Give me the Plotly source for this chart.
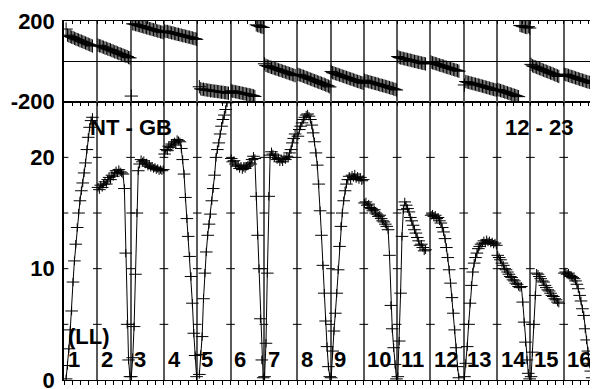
import plotly.graph_objects as go

# channel position inside each IF (fraction of the IF width)
CHAN_POS = [0.021, 0.063, 0.104, 0.146, 0.188, 0.229, 0.271, 0.313, 0.354, 0.396, 0.438, 0.479,
            0.521, 0.563, 0.604, 0.646, 0.688, 0.729, 0.771, 0.813, 0.854, 0.896, 0.938, 0.979]

IF_LABELS = [str(k) for k in range(1, 17)]

# amplitude per IF
amp_if1 = [None, 0.1, 1.3, 2.8, 4.5, 6.2, 8.8, 10.7, 12.2, 13.7, 15.0, 16.1, 17.0, 17.7, 18.6, 19.5, 20.7, 21.8, 22.7, 23.3, 23.6, None, None, None]
amp_if2 = [17.3, 17.1, 17.5, 17.3, 17.6, 17.8, 17.6, 18.0, 18.2, 18.0, 18.4, 18.3, 18.6, 18.8, 18.6, 18.9, 18.7, 18.6, 18.5, 17.2, 11.4, 5.0, 1.8, 0.3]
amp_if3 = [0.3, 2.0, 4.8, 9.5, 15.0, 18.8, 19.4, 19.8, 19.6, 19.7, 19.4, 19.5, 19.2, 19.3, 19.1, 19.2, 19.0, 19.1, 18.9, 19.0, 18.8, 18.9, 18.8, 18.9]
amp_if4 = [20.3, 20.7, 20.6, 21.0, 20.9, 21.2, 21.1, 21.4, 21.3, 21.6, 21.5, 21.4, 20.8, 19.8, 18.5, 16.4, 14.5, 12.9, 11.1, 9.3, 6.9, 4.2, 2.2, 0.3]
amp_if5 = [None, 0.5, 2.3, 3.9, 7.3, 9.6, 11.5, 13.0, 14.0, 14.9, 16.1, 17.2, 18.4, 20.0, 20.7, 21.3, 22.1, 22.8, 23.4, 23.8, 24.3, 24.9, 25.6, None]
amp_if6 = [19.9, 19.6, 19.7, 19.4, 19.2, 19.3, 19.0, 19.2, 18.9, 19.1, 19.0, 19.2, 19.3, 19.5, 19.4, 19.8, 20.1, 19.9, 16.5, 13.0, 10.0, 5.5, 1.8, 0.2]
amp_if7 = [0.3, 3.3, 9.6, 16.5, 20.2, 20.5, 20.3, 20.0, 20.2, 19.8, 19.9, 19.6, 19.8, 19.6, 19.9, 19.8, 20.1, 20.0, 20.4, 20.7, 21.3, 21.7, 22.1, None]
amp_if8 = [21.9, 22.5, 22.8, 23.1, 23.4, 23.6, 23.8, 23.9, 23.7, 23.4, 22.9, 22.2, 21.4, 20.4, 19.3, 17.6, 15.2, 13.0, 10.3, 7.8, 5.3, 3.0, 1.2, 0.3]
amp_if9 = [0.2, 2.6, 4.4, 6.0, 7.8, 9.9, 12.0, 13.8, 15.0, 16.1, 17.0, 17.6, 18.0, 18.3, 18.0, 18.4, 18.2, 18.5, 18.1, 18.3, 18.0, 18.2, 17.9, 18.0]
amp_if10 = [15.9, 16.0, 15.7, 15.8, 15.5, 15.4, 15.2, 15.3, 15.0, 14.9, 14.7, 14.8, 14.5, 14.3, 14.2, 14.0, 13.8, 13.5, 11.2, 6.7, 4.6, 2.9, 1.4, 0.1]
amp_if11 = [0.3, 3.5, 7.8, 12.9, 15.3, 16.0, 15.7, 15.4, 15.1, 14.6, 14.3, 13.9, 13.5, 13.2, 12.8, 12.5, 12.1, 12.2, 11.9, 11.6, 11.7, None, None, None]
amp_if12 = [14.8, 14.9, 14.7, 14.8, 14.5, 14.6, 14.3, 14.1, 13.7, 13.3, 12.7, 11.9, 11.0, 9.9, 8.7, 7.4, 6.0, 4.5, 2.9, 1.2, 0.2, None, None, None]
amp_if13 = [0.3, 1.5, 3.0, 5.0, 6.9, 8.5, 9.7, 10.5, 11.0, 11.4, 11.8, 12.0, 12.2, 12.3, 12.5, 12.3, 12.6, 12.4, 12.5, 12.3, 12.4, 12.2, 12.3, 12.1]
amp_if14 = [11.2, 11.0, 10.8, 10.5, 10.3, 10.0, 9.9, 9.7, 9.5, 9.3, 9.2, 9.0, 8.9, 8.7, 8.6, 8.4, 8.3, 8.4, 7.0, 5.2, 3.4, 1.8, 0.6, 0.1]
amp_if15 = [0.3, 2.5, 5.0, 7.6, 9.6, 9.5, 9.3, 9.1, 8.9, 8.8, 8.5, 8.3, 8.1, 8.0, 7.8, 7.6, 7.5, 7.3, 7.2, 7.0, 6.9, None, None, None]
amp_if16 = [9.6, 9.7, 9.5, 9.6, 9.4, 9.3, 9.2, 9.1, 8.9, 8.6, 8.2, 7.6, 7.1, 6.4, 5.8, 4.6, 3.6, 2.6, 1.5, 0.8, 0.2, None, None, None]

# phase (degrees) per IF
phs_if1 = [None, 160, 130, 126, 123, 120, 118, 114, 111, 108, 106, 102, 100, 97, 94, 91, 88, 85, 82, 79, 76, None, None, None]
phs_if2 = [80, 77, 76, 72, 70, 66, 65, 61, 59, 57, 53, 51, 47, 46, 42, 39, 37, 34, 32, 28, 26, 24, 19, 17]
phs_if3 = [-172, 186, 185, 182, 181, 178, 177, 174, 173, 170, 169, 166, 165, 162, 161, 158, 157, 154, 153, 150, 149, 146, 145, 142]
phs_if4 = [151, 148, 148, 145, 144, 141, 141, 138, 137, 134, 134, 131, 130, 127, 127, 124, 123, 120, 120, 117, 116, 113, 112, 109]
phs_if5 = [None, -126, -136, -139, -138, -141, -141, -143, -143, -146, -145, -147, -148, -148, -150, -150, -152, -153, -153, -155, -155, -157, -158, None]
phs_if6 = [-146, -148, -149, -151, -152, -154, -155, -157, -158, -160, -161, -163, -164, -166, -167, -169, -171, -174, 181, 177, 176, 172, 170, 168]
phs_if7 = [-12, -20, -23, -25, -28, -30, -32, -35, -37, -39, -42, -44, -46, -49, -51, -53, -56, -58, -61, -63, -66, -68, -71, None]
phs_if8 = [-64, -67, -69, -72, -74, -77, -80, -82, -85, -88, -90, -93, -96, -98, -101, -104, -106, -109, -112, -114, -117, -120, -123, -127]
phs_if9 = [-50, -56, -58, -61, -63, -65, -68, -70, -73, -75, -77, -80, -82, -85, -87, -89, -92, -94, -97, -99, -101, -104, -106, -109]
phs_if10 = [-93, -97, -98, -101, -102, -105, -106, -109, -110, -112, -114, -117, -118, -120, -122, -124, -126, -128, -130, -133, -134, -137, -139, -142]
phs_if11 = [24, 19, 17, 16, 14, 12, 11, 9, 7, 6, 4, 2, 0, -1, -3, -5, -6, -8, -10, -11, -13, None, None, None]
phs_if12 = [-4, -7, -9, -11, -13, -16, -18, -20, -22, -24, -27, -29, -31, -33, -35, -38, -40, -42, -44, -46, -49, None, None, None]
phs_if13 = [-117, -100, -103, -104, -107, -108, -110, -112, -113, -116, -117, -119, -121, -123, -125, -127, -129, -131, -133, -135, -137, -139, -141, -143]
phs_if14 = [-140, -142, -145, -147, -149, -152, -154, -156, -159, -161, -163, -166, -168, -170, -173, -175, 178, 176, 174, 171, 169, 167, 172, 165]
phs_if15 = [-15, -22, -25, -27, -30, -33, -36, -38, -41, -44, -47, -49, -52, -55, -58, -60, -63, -66, -69, -72, -75, None, None, None]
phs_if16 = [-63, -66, -68, -70, -73, -75, -77, -79, -82, -84, -86, -89, -91, -93, -95, -98, -100, -102, -104, -107, -110, None, None, None]

AMPS = [amp_if1, amp_if2, amp_if3, amp_if4, amp_if5, amp_if6, amp_if7, amp_if8,
        amp_if9, amp_if10, amp_if11, amp_if12, amp_if13, amp_if14, amp_if15, amp_if16]
PHASES = [phs_if1, phs_if2, phs_if3, phs_if4, phs_if5, phs_if6, phs_if7, phs_if8,
          phs_if9, phs_if10, phs_if11, phs_if12, phs_if13, phs_if14, phs_if15, phs_if16]

AMP_TICKS = [5, 10, 15, 20]

# one polyline per IF, separated by None
xs, amps, phs = [], [], []
for i, (a_if, p_if) in enumerate(zip(AMPS, PHASES)):
    for c, a, p in zip(CHAN_POS, a_if, p_if):
        if a is None:
            continue
        xs.append(i + c)
        amps.append(a)
        phs.append(p)
    xs.append(None)
    amps.append(None)
    phs.append(None)

FONT = "Liberation Sans, Arial, sans-serif"
GRID = "#5a5a5a"

fig = go.Figure()

fig.add_trace(go.Scatter(
    x=xs, y=amps, mode="lines+markers", xaxis="x", yaxis="y",
    line=dict(color="black", width=1),
    marker=dict(symbol="line-ew", size=9, color="black", line=dict(color="black", width=1)),
    hoverinfo="skip"))
fig.add_trace(go.Scatter(
    x=xs, y=amps, mode="markers", xaxis="x", yaxis="y",
    marker=dict(symbol="line-ns", size=6, color="black", line=dict(color="black", width=1)),
    hoverinfo="skip"))
fig.add_trace(go.Scatter(
    x=xs, y=phs, mode="markers", xaxis="x2", yaxis="y2",
    marker=dict(symbol="cross-thin", size=9.5, color="black", line=dict(color="black", width=1)),
    hoverinfo="skip"))
# carrier for the top-side tick axis of the lower panel
fig.add_trace(go.Scatter(x=[None], y=[None], xaxis="x3", yaxis="y", showlegend=False,
                         hoverinfo="skip"))

# short marks on every IF divider
shapes = []
for k in range(len(IF_LABELS) + 1):
    for v in AMP_TICKS:
        shapes.append(dict(type="line", xref="x", yref="y", x0=k - 0.13, x1=k + 0.13,
                           y0=v, y1=v, line=dict(color="black", width=1)))

annotations = []
for k, lab in enumerate(IF_LABELS):
    annotations.append(dict(x=k + 0.05, y=1.8, xref="x", yref="y", text="<b>%s</b>" % lab,
                            showarrow=False, xanchor="left", yanchor="middle",
                            font=dict(family=FONT, size=22, color="black")))
annotations += [
    dict(x=0.07, y=3.9, xref="x", yref="y", text="<b>(LL)</b>", showarrow=False,
         xanchor="left", yanchor="middle", font=dict(family=FONT, size=22, color="black")),
    dict(x=2.01, y=22.7, xref="x", yref="y", text="<b>NT - GB</b>", showarrow=False,
         xanchor="center", yanchor="middle", font=dict(family=FONT, size=22, color="black")),
    dict(x=14.26, y=22.7, xref="x", yref="y", text="<b>12 - 23</b>", showarrow=False,
         xanchor="center", yanchor="middle", font=dict(family=FONT, size=22, color="black")),
]

split = 0.7752
xcommon = dict(range=[0, 16], dtick=1, tick0=0, showticklabels=False, zeroline=False,
               tickcolor="black", automargin=False)

# the page body adds an 8px offset, so the figure is 8px smaller and the margins shifted
fig.update_layout(
    width=590, height=381,
    margin=dict(l=56, r=1, t=13, b=9, autoexpand=False),
    paper_bgcolor="white", plot_bgcolor="white",
    showlegend=False,
    font=dict(family=FONT, size=22, color="black"),
    xaxis=dict(**xcommon, anchor="y", domain=[0, 1],
               showgrid=True, gridcolor=GRID, gridwidth=1.5,
               ticks="outside", ticklen=4,
               minor=dict(dtick=0.25, ticks="outside", ticklen=4, tickcolor="black", showgrid=False),
               showline=True, linecolor="black", linewidth=1.2, mirror=True),
    xaxis3=dict(**xcommon, anchor="y", overlaying="x", side="top", showgrid=False,
                ticks="inside", ticklen=4,
                minor=dict(dtick=0.25, ticks="inside", ticklen=4, tickcolor="black", showgrid=False),
                showline=False),
    xaxis2=dict(**xcommon, anchor="y2", domain=[0, 1], side="top",
                showgrid=True, gridcolor=GRID, gridwidth=1.5,
                ticks="inside", ticklen=3,
                minor=dict(dtick=0.25, ticks="inside", ticklen=3, tickcolor="black", showgrid=False),
                showline=True, linecolor="black", linewidth=1.2, mirror=True),
    yaxis=dict(domain=[0, split], range=[0, 25], tickvals=[0, 10, 20],
               ticktext=["<b>0</b>", "<b>10</b>", "<b>20</b>"], ticks="",
               ticklabelstandoff=3, ticklabeloverflow="allow",
               showgrid=False, zeroline=False, automargin=False,
               showline=True, linecolor="black", linewidth=1.5, mirror=True,
               tickfont=dict(family=FONT, size=22, color="black")),
    yaxis2=dict(domain=[split, 1], range=[-200, 200], tickvals=[-200, 200],
                ticktext=["<b>-200</b>", "<b>200</b>"], ticks="",
                ticklabelstandoff=3, ticklabeloverflow="allow",
                showgrid=False, automargin=False,
                zeroline=True, zerolinecolor="black", zerolinewidth=1,
                showline=True, linecolor="black", linewidth=1.5, mirror=True,
                tickfont=dict(family=FONT, size=22, color="black")),
    shapes=shapes,
    annotations=annotations,
)

fig.write_html("out.html")
